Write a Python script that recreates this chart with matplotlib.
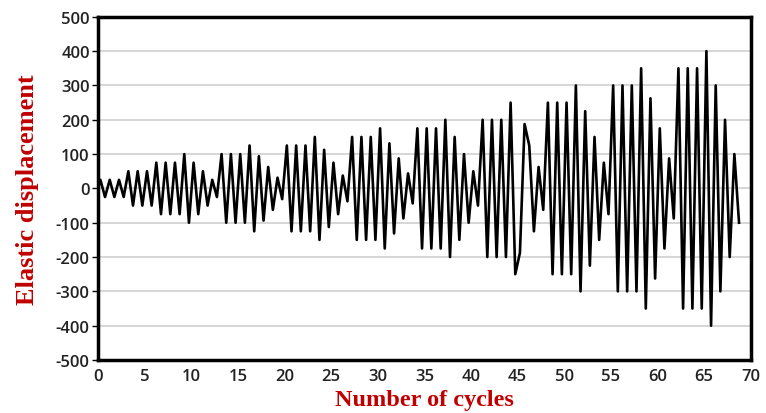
import matplotlib
matplotlib.use("Agg")
import matplotlib.pyplot as plt
import numpy as np

plt.rcParams['axes.unicode_minus'] = False

# peak (first half of each cycle) and trough (second half) of every cycle
peaks = [25, 25, 25, 50, 50, 50, 75, 75, 75, 100, 75, 50, 25,
         100, 100, 100, 125, 93.75, 62.5, 31.25,
         125, 125, 125, 150, 112.5, 75, 37.5,
         150, 150, 150, 175, 131.25, 87.5, 43.75,
         175, 175, 175, 200, 150, 100, 50,
         200, 200, 200, 250, -187.5, 125, 62.5,
         250, 250, 250, 300, 225, 150, 75,
         300, 300, 300, 350, 262.5, 175, 87.5,
         350, 350, 350, 400, 300, 200, 100]
troughs = [-25, -25, -25, -50, -50, -50, -75, -75, -75, -100, -75, -50, -25,
           -100, -100, -100, -125, -93.75, -62.5, -31.25,
           -125, -125, -125, -150, -112.5, -75, -37.5,
           -150, -150, -150, -175, -131.25, -87.5, -43.75,
           -175, -175, -175, -200, -150, -100, -50,
           -200, -200, -200, -250, 187.5, -125, -62.5,
           -250, -250, -250, -300, -225, -150, -75,
           -300, -300, -300, -350, -262.5, -175, -87.5,
           -350, -350, -350, -400, -300, -200, -100]
start_value = 0

x_ticks = np.arange(0, 71, 5)
y_ticks = np.arange(-500, 501, 100)

# build the zigzag: peak at quarter cycle, trough at three quarters
y = [start_value]
x = [0.0]
for i, (p, t) in enumerate(zip(peaks, troughs)):
    x += [i + 0.25, i + 0.75]
    y += [p, t]

fig = plt.figure(figsize=(7.66, 4.14), dpi=100)
ax = fig.add_axes([0.128, 0.128, 0.852, 0.829])

ax.plot(x, y, color='black', linewidth=1.9)

ax.set_xlim(0, 70)
ax.set_ylim(-500, 500)
ax.set_xticks(x_ticks)
ax.set_yticks(y_ticks)
ax.grid(axis='y', color='#d0d0d0', linewidth=1.2)
ax.set_axisbelow(True)

for s in ax.spines.values():
    s.set_linewidth(2.5)
    s.set_color('black')

ax.tick_params(axis='x', length=0, pad=6)
ax.tick_params(axis='y', length=4, width=1, direction='out', pad=2)
for lab in ax.get_xticklabels() + ax.get_yticklabels():
    lab.set_fontfamily('Open Sans')
    lab.set_fontweight('semibold')
    lab.set_fontsize(12)
    lab.set_color('#222222')

ax.set_xlabel('Number of cycles', labelpad=3, family='Liberation Serif',
              weight='bold', size=17.5, color='#c00000')
ax.set_ylabel('Elastic displacement', labelpad=12, family='Liberation Serif',
              weight='bold', size=19, color='#c00000')

fig.savefig('out.png', dpi=100)
plt.close(fig)
